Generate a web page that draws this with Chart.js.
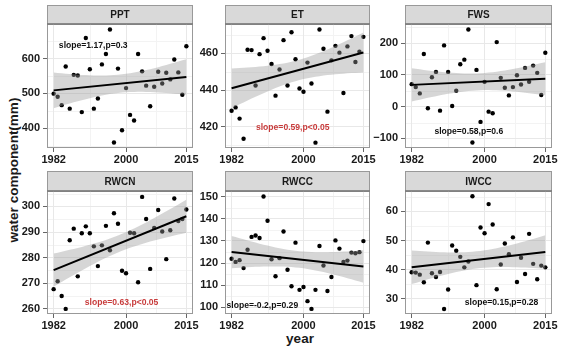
<!DOCTYPE html>
<html><head><meta charset="utf-8">
<script src="https://cdn.jsdelivr.net/npm/chart.js@4/dist/chart.umd.min.js"></script>
<style>
html,body{margin:0;padding:0;background:#fff;}
body{width:564px;height:347px;position:relative;overflow:hidden;font-family:"Liberation Sans",Arial,sans-serif;}
canvas{position:absolute;}
.ttl{position:absolute;font-weight:bold;font-size:13.5px;line-height:16px;color:#1a1a1a;white-space:nowrap;text-align:center;}
#ytitle{left:-86px;top:162px;width:200px;transform:rotate(-90deg);}
#xtitle{left:250px;top:331px;width:100px;}
</style></head><body>
<div class="ttl" id="ytitle">water component(mm)</div>
<div class="ttl" id="xtitle">year</div>
<script>
// ---------------- data ----------------
const years = [1982,1983,1984,1985,1986,1987,1988,1989,1990,1991,1992,1993,1994,1995,1996,1997,1998,1999,2000,2001,2002,2003,2004,2005,2006,2007,2008,2009,2010,2011,2012,2013,2014,2015];
const PPT  = [499,490,466,577,456,553,551,446,659,569,456,485,583,613,683,359,571,394,515,438,422,613,563,522,463,519,562,528,559,540,597,560,496,635];
const ET   = [428.8,430.6,424.5,413.5,462,461.8,442.5,459.6,468.3,461.4,454.2,437,451.2,467.2,442.5,471.5,456.8,440.9,439.1,455,443.6,411.4,473,462.5,428.3,456.2,464.1,460.4,438.4,463.8,469.4,455.3,460.9,469];
const FWS  = [70.8,61.5,41.7,165.6,-5.2,92.7,109.4,-12.5,192.7,109.4,2,50,133.3,147.9,242.7,-112.5,115.6,-47.9,78.1,-15.6,-20.8,203,90.6,59.4,35.4,61.5,99,69.8,121.9,78.1,129.2,106.3,36.5,169.8];
const RWCN = [267.7,270.8,265,260,286.8,291.3,272.7,289.5,292.2,289.5,284.4,276.7,284.8,292.4,282.9,297.3,293.2,274.9,273.9,289.7,289.5,270.4,303.7,295.1,275.6,291.6,298.6,290.2,279.4,290.7,303.1,294.3,295.1,298.8];
const RWCC = [121.9,120.5,121.3,117.7,126,131.8,132.4,131.3,150,139.1,121.7,114,122.2,134.2,117,109.5,129.2,107.9,109.2,102.8,99.3,107.9,127.7,118.9,107.4,113.7,130.2,126.5,120.5,121.1,124.7,124.4,124.9,129.9];
const IWCC = [39.1,39,38.3,35.7,49.3,38.8,37.5,39.2,26.5,33.2,48.3,46.5,44.4,40.8,42.8,65.2,34.7,54.5,52.5,62.5,55.5,33.3,41.8,49,45.3,51.1,35.8,44.1,38.5,52.3,42,36.7,41.4,40.8];

const panelNames  = ['PPT','ET','FWS','RWCN','RWCC','IWCC'];
const panelValues = [PPT, ET, FWS, RWCN, RWCC, IWCC];
const xTicks = [1982, 2000, 2015];
const yTicks = [[400,500,600],[420,440,460],[-100,0,100,200],[260,270,280,290,300],[100,110,120,130,140,150],[30,40,50,60]];
const yMin = [343, 408.5, -130, 258, 97, 24.8];
const yMax = [699, 476, 260, 306, 152.5, 67];
const slopeLabels = ['slope=1.17,p=0.3','slope=0.59,p<0.05','slope=0.58,p=0.6','slope=0.63,p<0.05','slope=-0.2,p=0.29','slope=0.15,p=0.28'];
const slopeSignificant = [false, true, false, true, false, false];
const labelYear  = [1991.85, 1997.3, 1996.1, 1998.9, 1989.7, 2004.2];
const labelValue = [638, 419.8, -79, 262.4, 100.9, 28.6];

// ---------------- layout ----------------
const colLeft = [47, 225, 405], colRight = [193, 370, 552];
const rowTop = [24, 191], rowBottom = [148, 314], stripH = [19, 20];
const Y_W = 46, X_H = 22, PAD_R = 16;
const X_MIN = 1980.35, X_MAX = 2016.65;
const T_975 = 2.0369; // t quantile, df = 32

Chart.defaults.font.family = '"Liberation Sans", Arial, sans-serif';

function linfit(xs, ys){
  const n = xs.length;
  const mx = xs.reduce((a,b)=>a+b,0)/n, my = ys.reduce((a,b)=>a+b,0)/n;
  let sxx=0, sxy=0;
  for(let i=0;i<n;i++){ sxx+=(xs[i]-mx)**2; sxy+=(xs[i]-mx)*(ys[i]-my); }
  const b = sxy/sxx, a = my - b*mx;
  let sse=0; for(let i=0;i<n;i++){ sse += (ys[i]-(a+b*xs[i]))**2; }
  const s = Math.sqrt(sse/(n-2));
  return {a,b,s,mx,sxx,n};
}

function minorVals(ticks, lo, hi){
  const out=[]; const st = ticks.length>1 ? ticks[1]-ticks[0] : 0;
  for(let i=0;i<ticks.length-1;i++) out.push((ticks[i]+ticks[i+1])/2);
  if(st && ticks.length>1 && ticks.every((t,i)=>i===0||Math.abs(t-ticks[i-1]-st)<1e-9)){
    if(ticks[0]-st/2>lo) out.push(ticks[0]-st/2);
    if(ticks[ticks.length-1]+st/2<hi) out.push(ticks[ticks.length-1]+st/2);
  }
  return out;
}

const fmt = v => (v<0 ? '\u2212'+Math.abs(v) : String(v));

panelNames.forEach((name, i) => {
  const r = Math.floor(i/3), c = i%3;
  const plotW = colRight[c]-colLeft[c], plotH = rowBottom[r]-rowTop[r];
  const cv = document.createElement('canvas');
  const W = Y_W + plotW + PAD_R, H = stripH[r] + plotH + X_H;
  cv.width = W; cv.height = H;
  cv.style.width = W+'px'; cv.style.height = H+'px';
  cv.style.left = (colLeft[c]-Y_W)+'px'; cv.style.top = (rowTop[r]-stripH[r])+'px';
  document.body.appendChild(cv);

  const vals = panelValues[i];
  const f = linfit(years, vals);
  const pts = years.map((x,k)=>({x, y: vals[k]}));
  const fitPts = [years[0], years[years.length-1]].map(x=>({x, y: f.a+f.b*x}));
  const hw = x => T_975*f.s*Math.sqrt(1/f.n + (x-f.mx)**2/f.sxx);
  const lower = years.map(x=>({x, y: f.a+f.b*x-hw(x)}));
  const upper = years.map(x=>({x, y: f.a+f.b*x+hw(x)}));

  const facetPlugin = {
    id: 'facet'+i,
    beforeDraw(ch){
      const ctx = ch.ctx, a = ch.chartArea;
      ctx.save();
      // strip
      ctx.fillStyle = '#d9d9d9';
      ctx.fillRect(a.left, 0.5, a.right-a.left, a.top-0.5);
      ctx.strokeStyle = '#999999'; ctx.lineWidth = 1;
      ctx.strokeRect(a.left+0.5, 0.5, a.right-a.left-1, a.top);
      ctx.fillStyle = '#1a1a1a';
      ctx.font = 'bold 10px "Liberation Sans", Arial, sans-serif';
      ctx.textAlign = 'center'; ctx.textBaseline = 'middle';
      ctx.fillText(name, (a.left+a.right)/2, a.top/2+1);
      // minor grid
      const xs = ch.scales.x, ys = ch.scales.y;
      ctx.strokeStyle = '#f3f3f3'; ctx.lineWidth = 1;
      minorVals(xTicks, X_MIN, X_MAX).forEach(v=>{
        const p = Math.round(xs.getPixelForValue(v))+0.5;
        ctx.beginPath(); ctx.moveTo(p, a.top); ctx.lineTo(p, a.bottom); ctx.stroke();
      });
      minorVals(yTicks[i], yMin[i], yMax[i]).forEach(v=>{
        const p = Math.round(ys.getPixelForValue(v))+0.5;
        ctx.beginPath(); ctx.moveTo(a.left, p); ctx.lineTo(a.right, p); ctx.stroke();
      });
      ctx.restore();
    },
    afterDatasetsDraw(ch){
      const ctx = ch.ctx;
      ctx.save();
      ctx.font = 'bold 8.6px "Liberation Sans", Arial, sans-serif';
      ctx.fillStyle = slopeSignificant[i] ? '#c83c3c' : '#111111';
      ctx.textAlign = 'center'; ctx.textBaseline = 'middle';
      ctx.fillText(slopeLabels[i], ch.scales.x.getPixelForValue(labelYear[i]), ch.scales.y.getPixelForValue(labelValue[i]));
      ctx.restore();
    },
    afterDraw(ch){
      const ctx = ch.ctx, a = ch.chartArea;
      ctx.save();
      ctx.strokeStyle = '#999999'; ctx.lineWidth = 1;
      ctx.strokeRect(a.left+0.5, a.top, a.right-a.left-1, a.bottom-a.top-0.5);
      ctx.strokeStyle = '#7a7a7a'; ctx.lineWidth = 1.5;
      ctx.beginPath(); ctx.moveTo(a.left, a.top); ctx.lineTo(a.right, a.top); ctx.stroke();
      ctx.restore();
    }
  };

  new Chart(cv.getContext('2d'), {
    type: 'scatter',
    data: { datasets: [
      { type:'line', data: lower, borderWidth:0, pointRadius:0, fill:false, order:2 },
      { type:'line', data: upper, borderWidth:0, pointRadius:0, fill:'-1', backgroundColor:'rgba(153,153,153,0.4)', order:2 },
      { type:'line', data: fitPts, borderColor:'#000', borderWidth:2, pointRadius:0, fill:false, order:1 },
      { type:'scatter', data: pts, pointRadius:2.2, pointBackgroundColor:'#000', backgroundColor:'#000', borderWidth:0, order:3 }
    ]},
    options: {
      responsive:false, animation:false, devicePixelRatio:1, events:[],
      layout:{ padding:{left:0, right:PAD_R, top:stripH[r], bottom:0}, autoPadding:false },
      plugins:{ legend:{display:false}, tooltip:{enabled:false}, title:{display:false} },
      scales:{
        x:{ type:'linear', min:X_MIN, max:X_MAX,
            afterBuildTicks: s => { s.ticks = xTicks.map(v=>({value:v})); },
            afterFit: s => { s.height = X_H; s.paddingLeft = 0; s.paddingRight = 0; },
            ticks:{ callback: v=>String(v), color:'#1a1a1a', font:{size:11, weight:'bold'}, padding:1, maxRotation:0, autoSkip:false },
            grid:{ color:'#e8e8e8', lineWidth:1, tickLength:4, tickColor:'#666', drawTicks:true },
            border:{ display:false } },
        y:{ type:'linear', min:yMin[i], max:yMax[i],
            afterBuildTicks: s => { s.ticks = yTicks[i].map(v=>({value:v})); },
            afterFit: s => { s.width = Y_W; s.paddingTop = 0; s.paddingBottom = 0; },
            ticks:{ callback: fmt, color:'#1a1a1a', font:{size:11, weight:'bold'}, padding:3, autoSkip:false },
            grid:{ color:'#e8e8e8', lineWidth:1, tickLength:4, tickColor:'#666', drawTicks:true },
            border:{ display:false } }
      }
    },
    plugins:[facetPlugin]
  });
});
</script>
</body></html>
